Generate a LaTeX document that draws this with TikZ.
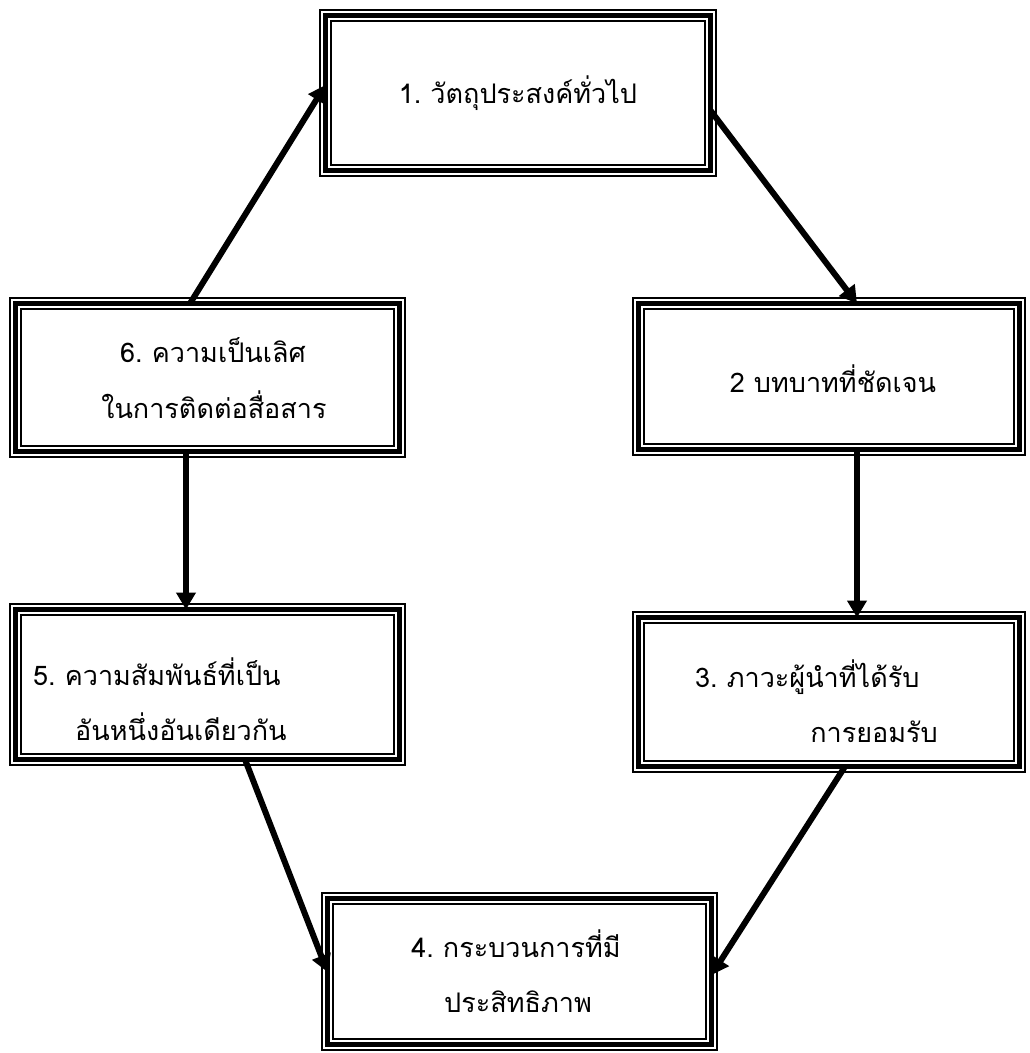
\documentclass[tikz,border=0pt]{standalone}
\usepackage{fontspec}
\newfontfamily\thaifont[Script=Thai]{Loma}
\usetikzlibrary{arrows.meta}
\begin{document}
\begin{tikzpicture}[x=1pt,y=-1pt,
  frame/.style={draw=black,line width=5pt,inner sep=0pt,outer sep=0pt,
    append after command={
      \pgfextra{\let\fn\tikzlastnode}
      ([shift={(-5.5pt,5.5pt)}]\fn.north west) edge[draw=black,line width=2pt,-,to path={rectangle (\tikztotarget)}] ([shift={(5.5pt,-5.5pt)}]\fn.south east)
      ([shift={(5.5pt,-5.5pt)}]\fn.north west) edge[draw=black,line width=2pt,-,to path={rectangle (\tikztotarget)}] ([shift={(-5.5pt,5.5pt)}]\fn.south east)
    }},
  txt/.style={font=\thaifont\fontsize{27}{32}\selectfont,inner sep=0pt,anchor=base},
  txtl/.style={txt,anchor=base west},
  link/.style={draw=black,line width=6pt,-{Triangle[length=17pt,width=19pt]}}]
\useasboundingbox[fill=white] (0,0) rectangle (1029,1053);

\node[frame,minimum width=385pt,minimum height=155pt] (b1) at (518,93) {};
\node[frame,minimum width=381pt,minimum height=146pt] (b2) at (829,376.5) {};
\node[frame,minimum width=384pt,minimum height=148pt] (b6) at (207.5,377.5) {};
\node[frame,minimum width=384pt,minimum height=150pt] (b5) at (207.5,684.5) {};
\node[frame,minimum width=381pt,minimum height=149pt] (b3) at (829,692) {};
\node[frame,minimum width=384pt,minimum height=146pt] (b4) at (519.5,971.5) {};

\node[txt] (t1) at (518,103) {1.\ วัตถุประสงค์ทั่วไป};
\node[txt] (t2) at (833,392) {2\ บทบาทที่ชัดเจน};
\node[txt] (t6a) at (213,362) {6.\ ความเป็นเลิศ};
\node[txt] (t6b) at (214,418) {ในการติดต่อสื่อสาร};
\node[txtl] (t5a) at (33,685) {5.\ ความสัมพันธ์ที่เป็น};
\node[txtl] (t5b) at (75,740) {อันหนึ่งอันเดียวกัน};
\node[txtl] (t3a) at (695,687) {3.\ ภาวะผู้นำที่ได้รับ};
\node[txt] (t3b) at (874,742) {การยอมรับ};
\node[txt] (t4a) at (516,957) {4.\ กระบวนการที่มี};
\node[txt] (t4b) at (518,1012) {ประสิทธิภาพ};

\draw[link] ([xshift=174.5pt]b6.north west) -- ([yshift=-69.5pt]b1.north west);
\draw[link] ([yshift=-95pt]b1.north east) -- ([xshift=218.5pt]b2.north west);
\draw[link] ([xshift=218.5pt]b2.south west) -- ([xshift=218.5pt]b3.north west);
\draw[link] ([xshift=170.5pt]b6.south west) -- ([xshift=170.5pt]b5.north west);
\draw[link] ([xshift=206.5pt]b3.south west) -- ([yshift=-76.5pt]b4.north east);
\draw[link] ([xshift=229.5pt]b5.south west) -- ([yshift=-73.5pt]b4.north west);
\end{tikzpicture}
\end{document}
